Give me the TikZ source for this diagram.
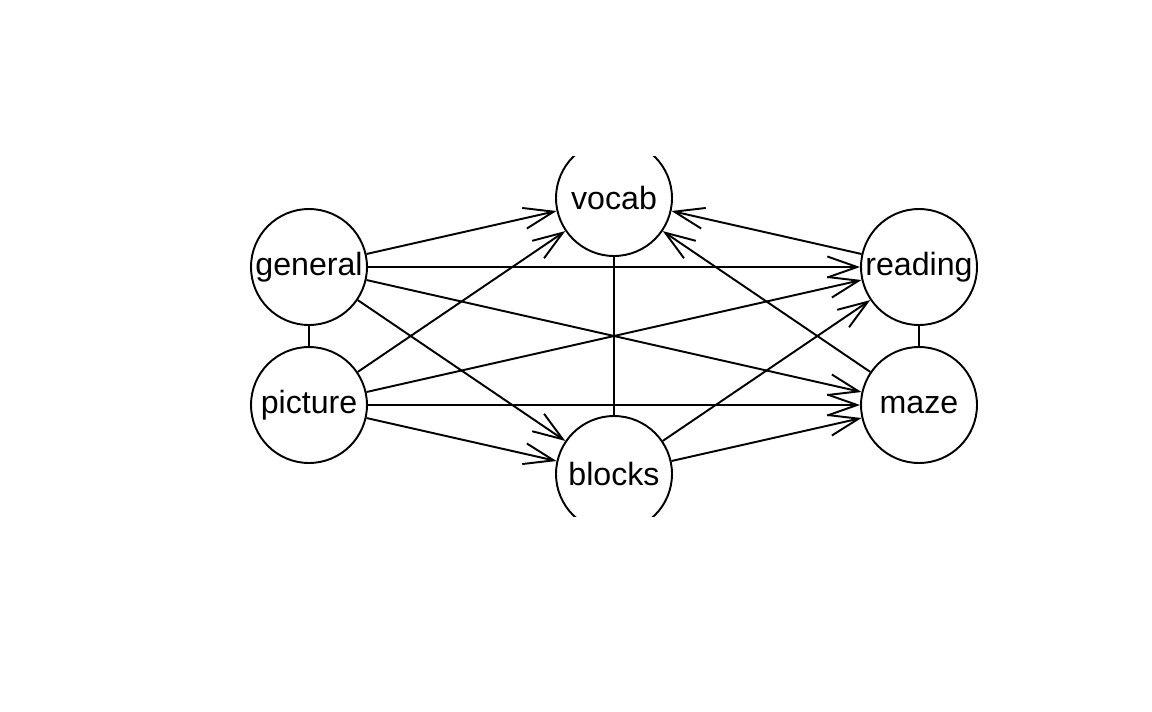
\documentclass[tikz,border=0pt]{standalone}
\usepackage{fontspec}
\setmainfont{Liberation Sans}
\usetikzlibrary{arrows.meta}

\begin{document}
\begin{tikzpicture}[x=0.02cm, y=-0.02cm,
    var/.style={circle, draw, line width=1.1pt, minimum size=2.32cm, inner sep=0pt,
        font=\fontsize{18.3}{20}\selectfont},
    reg/.style={line width=1.1pt, -{Straight Barb[length=17pt, width=12pt]}},
    cov/.style={line width=1.1pt}]

    \useasboundingbox (0,0) rectangle (1152,711);
    \clip (0,156) rectangle (1152,516);

    % Variables
    \node[var] (general) at (309,267) {general};
    \node[var] (picture) at (309,405) {picture};
    \node[var] (vocab)   at (614,198) {vocab};
    \node[var] (blocks)  at (614,474) {blocks};
    \node[var] (reading) at (919,267) {reading};
    \node[var] (maze)    at (919,405) {maze};

    %Undirected lines
    \draw[cov] (general) -- (picture);
    \draw[cov] (vocab) -- (blocks);
    \draw[cov] (reading) -- (maze);

    %From general
    \draw[reg] (general) -- (vocab);
    \draw[reg] (general) -- (reading);
    \draw[reg] (general) -- (maze);
    \draw[reg] (general) -- (blocks);

    %From picture
    \draw[reg] (picture) -- (vocab);
    \draw[reg] (picture) -- (reading);
    \draw[reg] (picture) -- (maze);
    \draw[reg] (picture) -- (blocks);

    %From blocks, reading and maze
    \draw[reg] (blocks) -- (reading);
    \draw[reg] (blocks) -- (maze);
    \draw[reg] (reading) -- (vocab);
    \draw[reg] (maze) -- (vocab);

\end{tikzpicture}
\end{document}
